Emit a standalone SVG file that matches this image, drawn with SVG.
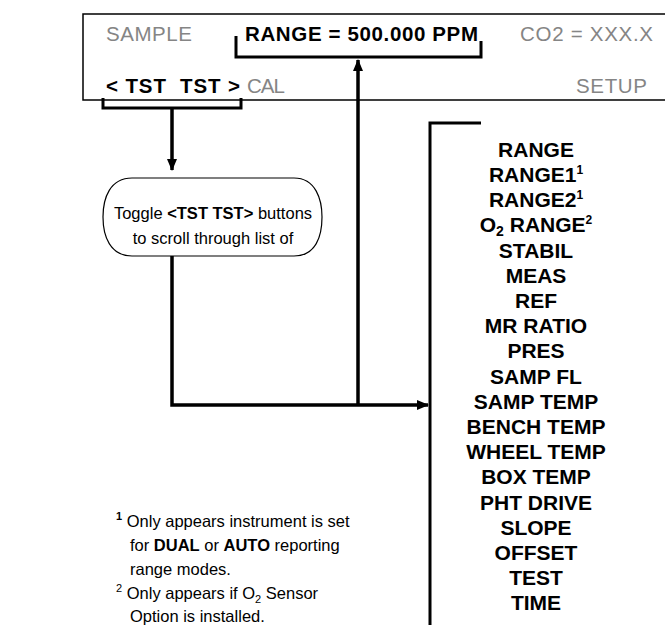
<svg xmlns="http://www.w3.org/2000/svg" width="665" height="625" viewBox="0 0 665 625">
<style>
text{font-family:"Liberation Sans",Arial,sans-serif;}
.g{fill:#858585;font-size:20.5px;}
.d{fill:#000;font-size:20.5px;font-weight:bold;}
.li{font-size:21px;font-weight:bold;text-anchor:middle;}
.fn{font-size:16.5px;}
.b{font-weight:bold;}
.ln{fill:none;stroke:#000;stroke-width:3.5;}
.br{fill:none;stroke:#000;stroke-width:3;}
</style>
<defs>
<marker id="ah" viewBox="0 0 12 10" refX="11" refY="5" markerWidth="12" markerHeight="10" markerUnits="userSpaceOnUse" orient="auto">
<path d="M0,0 L12,5 L0,10 Z" fill="#000"/>
</marker>
</defs>
<rect width="665" height="625" fill="#fff"/>
<g id="display">
<path d="M667,14 H83 V100 H667" fill="none" stroke="#000" stroke-width="1.5"/>
<text class="g" x="106" y="41" textLength="86" lengthAdjust="spacing">SAMPLE</text>
<text class="d" x="245" y="41" textLength="233" lengthAdjust="spacing">RANGE = 500.000 PPM</text>
<text class="g" x="520" y="41" textLength="133" lengthAdjust="spacing">CO2 = XXX.X</text>
<text class="d" x="106" y="93" textLength="134" lengthAdjust="spacing" style="white-space:pre">&lt; TST  TST &gt;</text>
<text class="g" x="247" y="93" textLength="38" lengthAdjust="spacing">CAL</text>
<text class="g" x="576" y="93" textLength="71" lengthAdjust="spacing">SETUP</text>
<path class="br" d="M236,36 V57 H481 V41"/>
<path class="br" d="M103,98 V108 H241 V98"/>
</g>
<g id="bubble">
<path d="M132,178 H294 C316,178 322,200 322,217 C322,236 316,256 294,256 H132 C110,256 103,236 103,217 C103,198 110,178 132,178 Z" fill="#fff" stroke="#000" stroke-width="1.2"/>
<text x="213" y="219" font-size="16.5" text-anchor="middle">Toggle <tspan class="b">&lt;TST TST&gt;</tspan> buttons</text>
<text x="213" y="244" font-size="16.5" text-anchor="middle">to scroll through list of</text>
</g>
<g id="list">
<path class="br" d="M481,123 H430 V625"/>
<text class="li" x="536" y="157">RANGE</text>
<text class="li" x="536" y="182">RANGE1<tspan dy="-8" font-size="12">1</tspan></text>
<text class="li" x="536" y="207">RANGE2<tspan dy="-8" font-size="12">1</tspan></text>
<text class="li" x="536" y="232">O<tspan dy="4" font-size="14">2</tspan><tspan dy="-4"> RANGE</tspan><tspan dy="-8" font-size="12">2</tspan></text>
<text class="li" x="536" y="258">STABIL</text>
<text class="li" x="536" y="283">MEAS</text>
<text class="li" x="536" y="308">REF</text>
<text class="li" x="536" y="333">MR RATIO</text>
<text class="li" x="536" y="358">PRES</text>
<text class="li" x="536" y="384">SAMP FL</text>
<text class="li" x="536" y="409">SAMP TEMP</text>
<text class="li" x="536" y="434">BENCH TEMP</text>
<text class="li" x="536" y="459">WHEEL TEMP</text>
<text class="li" x="536" y="484">BOX TEMP</text>
<text class="li" x="536" y="510">PHT DRIVE</text>
<text class="li" x="536" y="535">SLOPE</text>
<text class="li" x="536" y="560">OFFSET</text>
<text class="li" x="536" y="585">TEST</text>
<text class="li" x="536" y="610">TIME</text>
</g>
<g id="connectors">
<path class="ln" d="M172,108 V170" marker-end="url(#ah)"/>
<path class="ln" d="M172,256 V405 H428" marker-end="url(#ah)"/>
<path class="ln" d="M358,405 V60" marker-end="url(#ah)"/>
</g>
<g id="footnotes">
<text class="fn" x="116" y="527"><tspan class="b" font-size="11" dy="-7">1</tspan><tspan dy="7"> Only appears instrument is set</tspan></text>
<text class="fn" x="130" y="551">for <tspan class="b">DUAL</tspan> or <tspan class="b">AUTO</tspan> reporting</text>
<text class="fn" x="130" y="575">range modes.</text>
<text class="fn" x="116" y="599"><tspan font-size="11" dy="-7">2</tspan><tspan dy="7"> Only appears if O</tspan><tspan font-size="11" dy="4">2</tspan><tspan dy="-4"> Sensor</tspan></text>
<text class="fn" x="130" y="622">Option is installed.</text>
</g>
</svg>
